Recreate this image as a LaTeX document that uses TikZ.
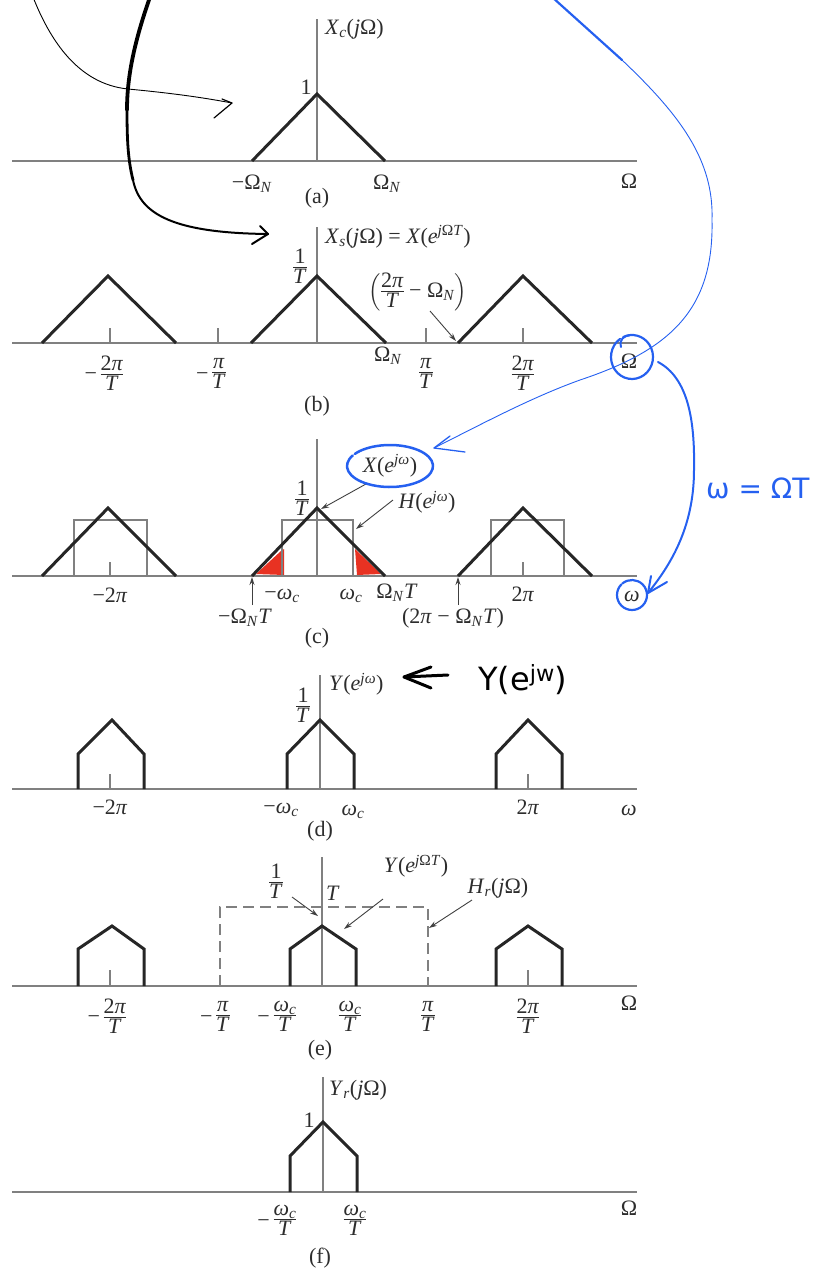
\documentclass[tikz,border=0pt]{standalone}
\usepackage{amsmath}
\usepackage{fontspec}
\setmainfont{Liberation Serif}
\newfontfamily\hand{DejaVu Sans}
\usetikzlibrary{arrows.meta}
\definecolor{ink}{RGB}{37,96,240}
\definecolor{axisgray}{RGB}{128,128,128}
\definecolor{txt}{RGB}{45,45,45}
\definecolor{redfill}{RGB}{232,50,34}
\setlength{\arrayrulewidth}{0.9pt}
\newcommand{\sbs}[1]{\textsubscript{#1}}
\newcommand{\sps}[1]{\textsuperscript{#1}}
\newcommand{\fr}[2]{{\fontsize{22}{12}\selectfont\begin{tabular}[c]{@{}c@{}}#1\\\hline\rule{0pt}{16pt}#2\end{tabular}}}
\newcommand{\mfr}[2]{\llap{−\,}\fr{#1}{#2}}
\begin{document}
\begin{tikzpicture}[x=1pt,y=-1pt,
  axisline/.style={draw=axisgray,line width=2pt},
  vaxis/.style={draw=axisgray,line width=1.3pt},
  spec/.style={draw=black!85,line width=3pt,line join=miter},
  tickmark/.style={draw=axisgray,line width=1.3pt},
  filt/.style={draw=axisgray,line width=2pt},
  dfilt/.style={draw=axisgray,line width=2pt,dash pattern=on 11pt off 6pt},
  lbl/.style={font=\fontsize{22}{25}\selectfont,text=txt,inner sep=0pt},
  ann/.style={draw=black!75,line width=0.9pt,-{Stealth[length=8pt,width=5pt]}},
  handk/.style={draw=black,line cap=round,line join=round},
  handb/.style={draw=ink,line cap=round,line join=round},
  handtext/.style={inner sep=0pt,anchor=west}
]
\useasboundingbox (0,0) rectangle (817,1269);

% ---------------- panel (a)
\draw[axisline] (12,161) -- (637,161);
\draw[vaxis] (317,19) -- (317,161);
\draw[spec] (252,161) -- (317,94) -- (385,161);
\node[lbl] (a1) at (306,87) {1};
\node[lbl,anchor=west] (aXc) at (325,29) {\textit{X}\sbs{\textit{c}}(\textit{j}Ω)};
\node[lbl] (aNm) at (252,184) {−Ω\sbs{\textit{N}}};
\node[lbl] (aNp) at (387,184) {Ω\sbs{\textit{N}}};
\node[lbl] (aCap) at (317,198) {(a)};
\node[lbl] (aW) at (629,181) {Ω};

% ---------------- panel (b)
\draw[axisline] (12,343) -- (637,343);
\draw[vaxis] (317,227) -- (317,343);
\foreach \t in {110,218,426,523} \draw[tickmark] (\t,328) -- (\t,343);
\draw[spec] (42,343) -- (108,276) -- (176,343);
\draw[spec] (251,343) -- (317,276) -- (386,343);
\draw[spec] (458,343) -- (523,276) -- (592,343);
\node[lbl,anchor=west] (bXs) at (325,237) {\textit{X}\sbs{\textit{s}}(\textit{j}Ω) = \textit{X}(\textit{e}\sps{\textit{j}Ω\textit{T}})};
\node[lbl] (b1T) at (300,268) {\fr{1}{\textit{T}}};
\node[lbl] (bGap) at (418,292) {$\left(\hbox{\fr{2\textit{π}}{\textit{T}}}\hbox{ − Ω\sbs{\textit{N}}}\right)$};
\coordinate (bGapTail) at (430,311);
\coordinate (bGapTip) at (456,341);
\draw[ann] (bGapTail) -- (bGapTip);
\node[lbl] (bm2p) at (112,375) {\mfr{2\textit{π}}{\textit{T}}};
\node[lbl] (bmp) at (219,375) {\mfr{\textit{π}}{\textit{T}}};
\node[lbl] (bN) at (388,356) {Ω\sbs{\textit{N}}};
\node[lbl] (bp) at (426,375) {\fr{\textit{π}}{\textit{T}}};
\node[lbl] (b2p) at (523,375) {\fr{2\textit{π}}{\textit{T}}};
\node[lbl] (bW) at (629,361) {Ω};
\node[lbl] (bCap) at (317,406) {(b)};

% ---------------- panel (c)
\fill[redfill] (256,574) -- (281,551) -- (284,549) -- (284,575) -- cycle;
\fill[redfill] (355,549) -- (357,575) -- (381,574) -- cycle;
\draw[axisline] (12,576) -- (637,576);
\draw[vaxis] (317,439) -- (317,576);
\foreach \t in {110,523} \draw[tickmark] (\t,562) -- (\t,576);
\draw[filt] (74,576) -- (74,520) -- (147,520) -- (147,576);
\draw[filt] (282,576) -- (282,520) -- (353,520) -- (353,576);
\draw[filt] (491,576) -- (491,520) -- (564,520) -- (564,576);
\draw[spec] (42,576) -- (108,508) -- (176,576);
\draw[spec] (252,576) -- (317,508) -- (385,576);
\draw[spec] (458,576) -- (523,508) -- (592,576);
\node[lbl] (c1T) at (302,500) {\fr{1}{\textit{T}}};
\node[lbl] (cX) at (390,466) {\textit{X}(\textit{e}\sps{\textit{jω}})};
\node[lbl] (cH) at (427,502) {\textit{H}(\textit{e}\sps{\textit{jω}})};
\coordinate (cXtail) at (366,484);
\coordinate (cXtip) at (321,509);
\draw[ann] (cXtail) -- (cXtip);
\coordinate (cHtail) at (393,500);
\coordinate (cHtip) at (356,529);
\draw[ann] (cHtail) -- (cHtip);
\node[lbl] (cm2p) at (110,595) {−2\textit{π}};
\node[lbl] (cmwc) at (282,596) {−\textit{ω}\sbs{\textit{c}}};
\node[lbl] (cwc) at (351,596) {\textit{ω}\sbs{\textit{c}}};
\node[lbl] (cNT) at (397,593) {Ω\sbs{\textit{N}}\textit{T}};
\node[lbl] (c2p) at (523,594) {2\textit{π}};
\node[lbl] (cw) at (632,596) {\textit{ω}};
\node[lbl] (cMNT) at (245,618) {−Ω\sbs{\textit{N}}\textit{T}};
\node[lbl] (c2pNT) at (453,618) {(2\textit{π} − Ω\sbs{\textit{N}}\textit{T})};
\node[lbl] (cCap) at (317,638) {(c)};
\coordinate (cLtail) at (252,605);
\coordinate (cLtip) at (252,577);
\coordinate (cRtail) at (458,605);
\coordinate (cRtip) at (458,577);
\draw[ann] (cLtail) -- (cLtip);
\draw[ann] (cRtail) -- (cRtip);

% ---------------- panel (d)
\draw[axisline] (12,789) -- (637,789);
\draw[vaxis] (320,675) -- (320,789);
\foreach \t in {110,528} \draw[tickmark] (\t,774) -- (\t,789);
\draw[spec] (78,789) -- (78,754) -- (112,720) -- (144,754) -- (144,789);
\draw[spec] (287,789) -- (287,754) -- (320,720) -- (354,754) -- (354,789);
\draw[spec] (496,789) -- (496,754) -- (528,720) -- (562,754) -- (562,789);
\node[lbl] (d1T) at (303,707) {\fr{1}{\textit{T}}};
\node[lbl,anchor=west] (dY) at (329,684) {\textit{Y}(\textit{e}\sps{\textit{jω}})};
\node[lbl] (dm2p) at (110,807) {−2\textit{π}};
\node[lbl] (dmwc) at (281,810) {−\textit{ω}\sbs{\textit{c}}};
\node[lbl] (dwc) at (353,812) {\textit{ω}\sbs{\textit{c}}};
\node[lbl] (dCap) at (320,831) {(d)};
\node[lbl] (d2p) at (528,807) {2\textit{π}};
\node[lbl] (dw) at (629,810) {\textit{ω}};

% ---------------- panel (e)
\draw[axisline] (12,986) -- (637,986);
\draw[vaxis] (322,857) -- (322,986);
\foreach \t in {110,528} \draw[tickmark] (\t,970) -- (\t,986);
\draw[dfilt] (220,986) -- (220,907) -- (428,907) -- (428,986);
\draw[spec] (78,986) -- (78,949) -- (112,926) -- (144,949) -- (144,986);
\draw[spec] (290,986) -- (290,949) -- (322,926) -- (356,949) -- (356,986);
\draw[spec] (496,986) -- (496,949) -- (528,926) -- (562,949) -- (562,986);
\node[lbl] (e1T) at (276,883) {\fr{1}{\textit{T}}};
\node[lbl] (eT) at (333,893) {\textit{T}};
\node[lbl] (eY) at (416,866) {\textit{Y}(\textit{e}\sps{\textit{j}Ω\textit{T}})};
\node[lbl] (eHr) at (498,888) {\textit{H}\sbs{\textit{r}}(\textit{j}Ω)};
\coordinate (e1Ttail) at (292,897);
\coordinate (e1Ttip) at (318,916);
\draw[ann] (e1Ttail) -- (e1Ttip);
\coordinate (eYtail) at (383,899);
\coordinate (eYtip) at (344,929);
\draw[ann] (eYtail) -- (eYtip);
\coordinate (eHtail) at (472,900);
\coordinate (eHtip) at (429,928);
\draw[ann] (eHtail) -- (eHtip);
\node[lbl] (em2p) at (115,1018) {\mfr{2\textit{π}}{\textit{T}}};
\node[lbl] (emp) at (223,1018) {\mfr{\textit{π}}{\textit{T}}};
\node[lbl] (emwc) at (285,1018) {\mfr{\textit{ω}\sbs{\textit{c}}}{\textit{T}}};
\node[lbl] (ewc) at (350,1018) {\fr{\textit{ω}\sbs{\textit{c}}}{\textit{T}}};
\node[lbl] (ep) at (428,1018) {\fr{\textit{π}}{\textit{T}}};
\node[lbl] (e2p) at (528,1018) {\fr{2\textit{π}}{\textit{T}}};
\node[lbl] (eW) at (629,1003) {Ω};
\node[lbl] (eCap) at (320,1050) {(e)};

% ---------------- panel (f)
\draw[axisline] (12,1192) -- (637,1192);
\draw[vaxis] (323,1077) -- (323,1192);
\draw[spec] (290,1192) -- (290,1156) -- (323,1122) -- (357,1156) -- (357,1192);
\node[lbl] (f1) at (309,1120) {1};
\node[lbl,anchor=west] (fY) at (329,1090) {\textit{Y}\sbs{\textit{r}}(\textit{j}Ω)};
\node[lbl] (fmwc) at (285,1222) {\mfr{\textit{ω}\sbs{\textit{c}}}{\textit{T}}};
\node[lbl] (fwc) at (355,1222) {\fr{\textit{ω}\sbs{\textit{c}}}{\textit{T}}};
\node[lbl] (fCap) at (320,1258) {(f)};
\node[lbl] (fW) at (629,1208) {Ω};

% ---------------- handwritten black annotations
\coordinate (k1s) at (33,-3);
\coordinate (k1t) at (232,103);
\draw[handk,line width=0.9pt] (k1s) .. controls (50,40) and (78,84) .. (128,89) .. controls (170,93) and (200,97) .. (k1t);
\draw[handk,line width=1.2pt] (214,118) -- (k1t) -- (222,99);

\coordinate (k2s) at (150,-3);
\coordinate (k2a) at (127,110);
\coordinate (k2b) at (133,180);
\coordinate (k2t) at (268,234);
\draw[handk,line width=3.8pt] (k2s) .. controls (135,40) and (127,75) .. (k2a);
\draw[handk,line width=2.8pt] (k2a) .. controls (127,140) and (128,160) .. (k2b);
\draw[handk,line width=2pt] (k2b) .. controls (140,215) and (175,233) .. (k2t);
\draw[handk,line width=2pt] (260,226) -- (k2t) -- (252,244);

\coordinate (yArrTail) at (448,675);
\coordinate (yArrTip) at (404,677);
\draw[handk,line width=3pt] (yArrTail) -- (yArrTip);
\draw[handk,line width=3pt] (431,667) -- (yArrTip) -- (431,688);
\node[handtext,font=\hand\fontsize{32}{36}\selectfont] (yHand) at (478,680) {Y(e\textsuperscript{jw})};

% ---------------- handwritten blue annotations
\coordinate (u1s) at (552,-3);
\coordinate (u1m) at (622,60);
\coordinate (u1t) at (434,448);
\draw[handb,line width=2.2pt] (u1s) -- (u1m);
\draw[handb,line width=0.9pt] (u1m) .. controls (680,115) and (714,160) .. (712,220) .. controls (714,310) and (670,350) .. (580,380) .. controls (530,398) and (480,425) .. (u1t);
\draw[handb,line width=1.3pt] (450,436) -- (u1t) -- (465,452);

\draw[handb,line width=2.2pt] (632,357) ++(125:21pt and 22pt) arc[start angle=125,end angle=475,x radius=21pt,y radius=22pt];
\draw[handb,line width=2pt] (621,347) .. controls (619,339) and (624,336) .. (630,335);

\coordinate (u2s) at (658,362);
\coordinate (u2t) at (648,593);
\draw[handb,line width=2pt] (u2s) .. controls (688,378) and (695,420) .. (694,470) .. controls (694,530) and (668,568) .. (u2t);
\draw[handb,line width=2pt] (651,576) -- (u2t) -- (667,582);

\draw[handb,line width=2.5pt] (390,466) ++(150:43pt and 21pt) arc[start angle=150,end angle=505,x radius=43pt,y radius=21pt];
\draw[handb,line width=2.2pt] (632,595) ++(135:15pt and 15pt) arc[start angle=135,end angle=490,x radius=15pt,y radius=15pt];

\node[handtext,font=\hand\fontsize{28}{32}\selectfont,text=ink] (wOT) at (706,488) {ω = ΩT};
\end{tikzpicture}
\end{document}
